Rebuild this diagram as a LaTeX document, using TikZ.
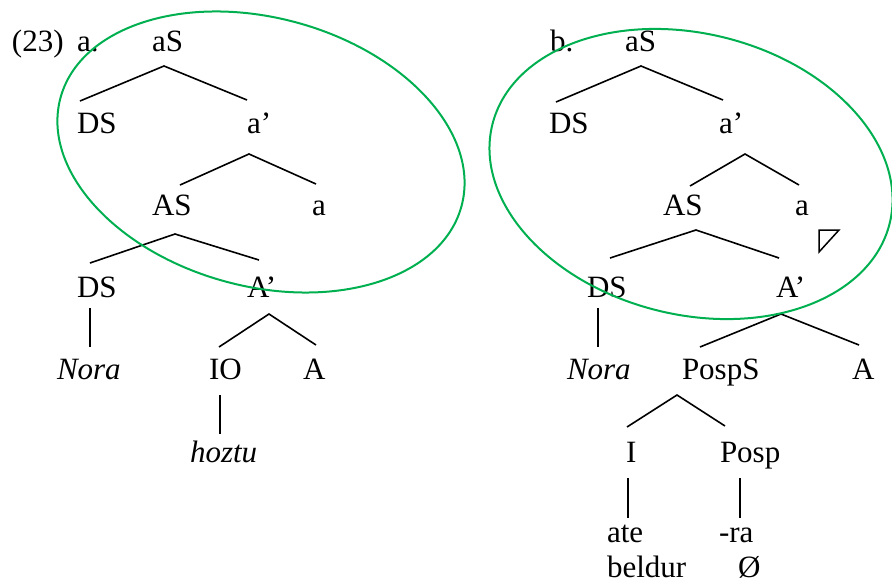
\documentclass[tikz,border=0pt]{standalone}
\usepackage{fontspec}
\setmainfont{Liberation Serif}
\definecolor{circgreen}{RGB}{0,176,80}
\begin{document}
\begin{tikzpicture}[x=1pt,y=-1pt,
  lbl/.style={anchor=base west,inner sep=0pt,outer sep=0pt,font=\fontsize{31}{35}\selectfont},
  br/.style={line width=1.6pt,line join=miter},
  ring/.style={draw=circgreen,line width=2pt}]
\useasboundingbox (0,0) rectangle (892,582);
\clip (0,0) rectangle (892,582);
% ---------- tree a ----------
\node[lbl] (num) at (12,51) {(23)};
\node[lbl] (la) at (77,51) {a.};
\node[lbl] (a1) at (152,51) {aS};
\node[lbl] (a2) at (77,133) {DS};
\node[lbl] (a3) at (247,133) {a’};
\node[lbl] (a4) at (152,215) {AS};
\node[lbl] (a5) at (312,215) {a};
\node[lbl] (a6) at (77,297) {DS};
\node[lbl] (a7) at (247,297) {A’};
\node[lbl] (a8) at (57,379) {\itshape Nora};
\node[lbl] (a9) at (209,379) {IO};
\node[lbl] (a10) at (303,379) {A};
\node[lbl] (a11) at (190,462) {\itshape hoztu};
\coordinate (ap1) at (164,66);  \coordinate (al1) at (80,101);  \coordinate (ar1) at (247,100);
\coordinate (ap2) at (249,154); \coordinate (al2) at (180,185); \coordinate (ar2) at (316,184);
\coordinate (ap3) at (175,234); \coordinate (al3) at (90,263);  \coordinate (ar3) at (259,260);
\coordinate (ap4) at (269,314); \coordinate (al4) at (219,347); \coordinate (ar4) at (316,345);
\coordinate (av1t) at (90,308); \coordinate (av1b) at (90,347);
\coordinate (av2t) at (220,395); \coordinate (av2b) at (220,434);
\draw[br] (al1) -- (ap1) -- (ar1);
\draw[br] (al2) -- (ap2) -- (ar2);
\draw[br] (al3) -- (ap3) -- (ar3);
\draw[br] (al4) -- (ap4) -- (ar4);
\draw[br] (av1t) -- (av1b);
\draw[br] (av2t) -- (av2b);
\coordinate (ec1) at (261,152);
\draw[ring,rotate around={-15.1:(ec1)}] (ec1) ellipse [x radius=207.7pt, y radius=134.3pt];
% ---------- tree b ----------
\node[lbl] (lb) at (550,51) {b.};
\node[lbl] (b1) at (625,51) {aS};
\node[lbl] (b2) at (549,133) {DS};
\node[lbl] (b3) at (719,133) {a’};
\node[lbl] (b4) at (663,215) {AS};
\node[lbl] (b5) at (795,215) {a};
\node[lbl] (b6) at (587,297) {DS};
\node[lbl] (b7) at (776,297) {A’};
\node[lbl] (b8) at (567,379) {\itshape Nora};
\node[lbl] (b9) at (682,379) {PospS};
\node[lbl] (b10) at (852,379) {A};
\node[lbl] (b11) at (626,462) {I};
\node[lbl] (b12) at (720,462) {Posp};
\node[lbl] (b13) at (607,542) {ate};
\node[lbl] (b14) at (719,542) {-ra};
\node[lbl] (b15) at (607,577) {beldur};
\node[lbl] (b16) at (738,577) {Ø};
\coordinate (bp1) at (641,66);  \coordinate (bl1) at (556,102); \coordinate (br1) at (723,100);
\coordinate (bp2) at (745,154); \coordinate (bl2) at (690,186); \coordinate (br2) at (799,185);
\coordinate (bp3) at (696,230); \coordinate (bl3) at (610,258); \coordinate (br3) at (779,258);
\coordinate (bp4) at (781,314); \coordinate (bl4) at (700,347); \coordinate (br4) at (859,345);
\coordinate (bp5) at (677,395); \coordinate (bl5) at (627,427); \coordinate (br5) at (725,426);
\coordinate (bv1t) at (598,308); \coordinate (bv1b) at (598,347);
\coordinate (bv2t) at (628,478); \coordinate (bv2b) at (628,518);
\coordinate (bv3t) at (740,478); \coordinate (bv3b) at (740,518);
\draw[br] (bl1) -- (bp1) -- (br1);
\draw[br] (bl2) -- (bp2) -- (br2);
\draw[br] (bl3) -- (bp3) -- (br3);
\draw[br] (bl4) -- (bp4) -- (br4);
\draw[br] (bl5) -- (bp5) -- (br5);
\draw[br] (bv1t) -- (bv1b);
\draw[br] (bv2t) -- (bv2b);
\draw[br] (bv3t) -- (bv3b);
% small triangle
\coordinate (t1) at (819,230); \coordinate (t2) at (839,230); \coordinate (t3) at (819,252);
\draw[line width=1.5pt] (t1) -- (t2) -- (t3) -- cycle;
\coordinate (ec2) at (691,174);
\draw[ring,rotate around={-14:(ec2)}] (ec2) ellipse [x radius=204.7pt, y radius=140.5pt];
\end{tikzpicture}
\end{document}
